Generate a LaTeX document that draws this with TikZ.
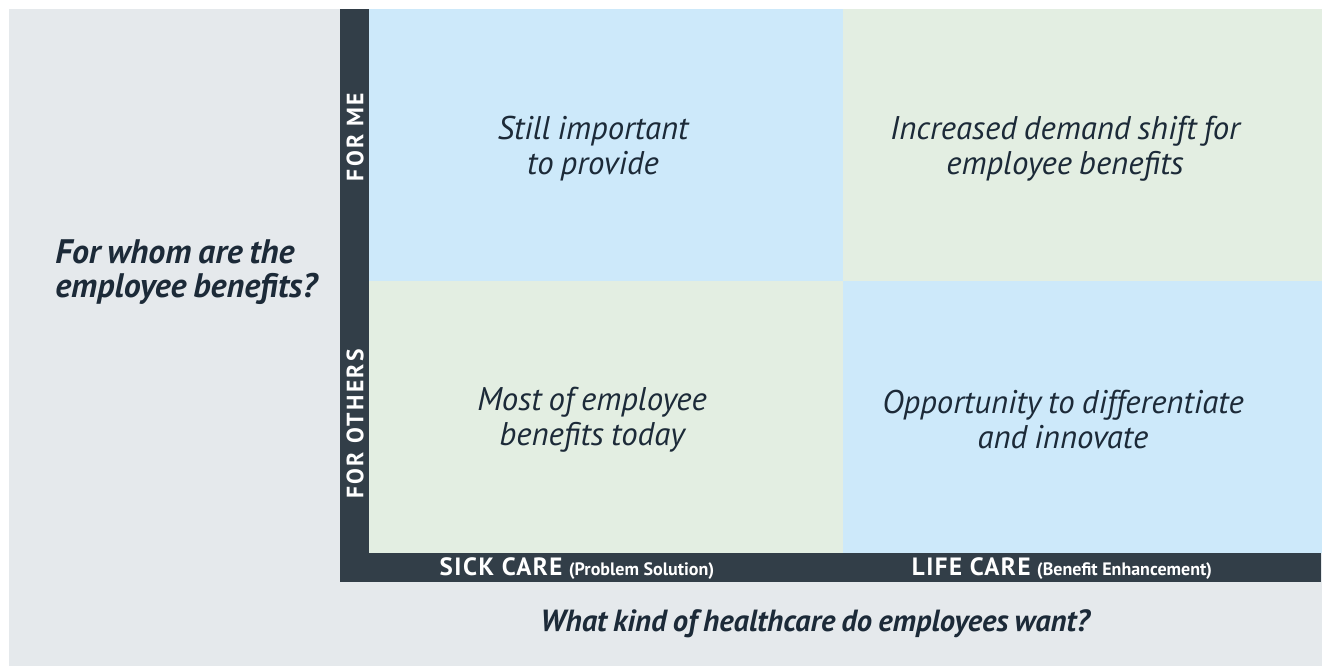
\documentclass[tikz,border=0pt]{standalone}
\usepackage{fontspec}
\setmainfont{PT Sans}
\newfontfamily\tightfont[WordSpace=0.8]{PT Sans}
\definecolor{paper}{HTML}{E5E9EC}
\definecolor{skyq}{HTML}{CDE9FA}
\definecolor{sageq}{HTML}{E3EEE2}
\definecolor{barc}{HTML}{323E48}
\definecolor{ink}{HTML}{1C2A38}
\begin{document}
\begin{tikzpicture}[x=0.5pt,y=-0.5pt,
    quadtext/.style={align=center,text=ink,font=\tightfont\fontsize{16.4}{17.5}\selectfont\itshape},
    question/.style={text=ink,inner sep=0pt,font=\tightfont\fontsize{17}{17}\selectfont\bfseries\itshape},
    sidelabel/.style={rotate=90,text=white,font=\fontsize{11.8}{12}\selectfont\bfseries\addfontfeatures{LetterSpace=10}},
    footlabel/.style={anchor=base,text=white,font=\fontsize{12.5}{12}\selectfont\bfseries}]
    \useasboundingbox (0,0) rectangle (1322,666);
    \fill[white] (0,0) rectangle (1322,666);
    \fill[paper] (9,9) rectangle (1322,666);
    % quadrants
    \fill[skyq] (369,9) rectangle (843,281);
    \fill[sageq] (843,9) rectangle (1322,281);
    \fill[sageq] (369,281) rectangle (843,553);
    \fill[skyq] (843,281) rectangle (1322,553);
    % axis bars
    \fill[barc] (340,9) rectangle (369,582);
    \fill[barc] (340,553) rectangle (1321,582);
    \node[sidelabel] (forme) at (355,137) {FOR ME};
    \node[sidelabel] (forothers) at (355,424) {FOR OTHERS};
    \node[footlabel] (sick) at (577,575) {{\addfontfeatures{LetterSpace=6}SICK CARE} {\fontsize{9}{9}\selectfont(Problem Solution)}};
    \node[footlabel] (life) at (1062,575) {{\addfontfeatures{LetterSpace=6}LIFE CARE} {\fontsize{9}{9}\selectfont(Benefit Enhancement)}};
    \node[quadtext] (stillimp) at (593,149) {Still important\\to provide};
    \node[quadtext] (increased) at (1065,149) {Increased demand shift for\\employee benefits};
    \node[quadtext] (mostof) at (592,420) {Most of employee\\benefits today};
    \node[quadtext] (opportunity) at (1063,420) {Opportunity to differentiate\\and innovate};
    \node[question,align=left,anchor=west] (forwhom) at (55,272) {For whom are the\\employee benefits?};
    \node[question,anchor=base,font=\tightfont\fontsize{15.3}{17}\selectfont\bfseries\itshape] (whatkind) at (815,631) {What kind of healthcare do employees want?};
\end{tikzpicture}
\end{document}
